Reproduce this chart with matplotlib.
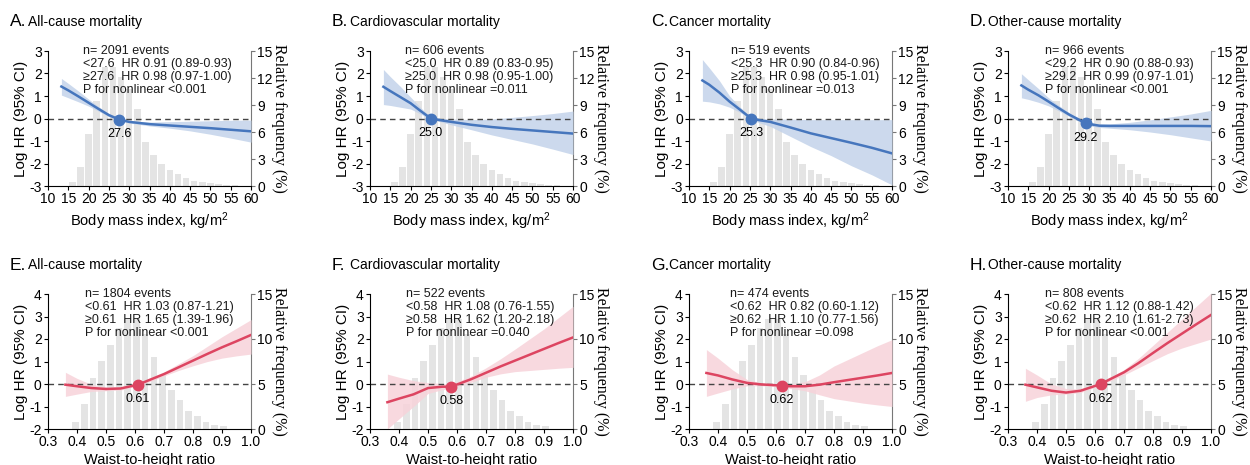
import numpy as np
import matplotlib
matplotlib.use('Agg')
import matplotlib.pyplot as plt

plt.rcParams['font.family'] = ['Liberation Sans', 'DejaVu Sans']
plt.rcParams['axes.unicode_minus'] = False
plt.rcParams['mathtext.default'] = 'regular'

BLUE, BLUE_BAND = '#4676bd', '#c3d3ea'
RED, RED_BAND = '#dd4561', '#f7d3da'
BAR = '#e4e4e4'

# histogram of exposure (relative frequency, %)
bmi_bins = [16, 18, 20, 22, 24, 26, 28, 30, 32, 34, 36, 38, 40, 42, 44, 46, 48, 50, 52, 54, 56]
bmi_freq = [0.45, 2.1, 5.8, 9.5, 13.2, 13.2, 12.1, 10.8, 8.6, 4.9, 3.4, 2.5, 1.75, 1.3, 0.85, 0.6, 0.45, 0.33, 0.25, 0.12, 0.06]
whtr_bins = [0.395, 0.425, 0.455, 0.485, 0.515, 0.545, 0.575, 0.605, 0.635, 0.665, 0.695, 0.725, 0.755, 0.785, 0.815, 0.845, 0.875, 0.905]
whtr_freq = [0.8, 2.8, 5.7, 7.6, 9.3, 11.2, 12.2, 12.2, 10.6, 8.0, 6.0, 4.3, 3.2, 2.0, 1.4, 0.8, 0.5, 0.3]

# spline curves: x, log HR, lower CI, upper CI
a_x = [13.3, 15, 17.5, 20, 22.5, 25, 27.6, 30, 35, 40, 45, 50, 55, 60]
a_y = [1.42, 1.25, 0.98, 0.70, 0.42, 0.15, -0.05, -0.15, -0.25, -0.31, -0.37, -0.43, -0.50, -0.57]
a_lo = [1.04, 0.92, 0.74, 0.55, 0.32, 0.08, -0.10, -0.20, -0.33, -0.43, -0.55, -0.70, -0.87, -1.05]
a_hi = [1.78, 1.56, 1.22, 0.86, 0.52, 0.22, 0.00, -0.10, -0.16, -0.14, -0.12, -0.10, -0.08, -0.07]

b_x = [13.3, 15, 17.5, 20, 22.5, 25, 27.5, 30, 35, 40, 45, 50, 55, 60]
b_y = [1.41, 1.22, 0.95, 0.68, 0.33, 0.0, -0.08, -0.15, -0.28, -0.38, -0.46, -0.53, -0.60, -0.67]
b_lo = [0.62, 0.58, 0.50, 0.42, 0.20, -0.05, -0.15, -0.28, -0.50, -0.73, -0.93, -1.13, -1.36, -1.60]
b_hi = [2.18, 1.86, 1.42, 0.95, 0.48, 0.05, 0.0, -0.02, -0.05, -0.02, 0.05, 0.13, 0.22, 0.33]

c_x = [13.3, 15, 17.5, 20, 22.5, 25.3, 27.5, 30, 35, 40, 45, 50, 55, 60]
c_y = [1.69, 1.50, 1.15, 0.75, 0.40, 0.0, -0.08, -0.15, -0.40, -0.66, -0.87, -1.08, -1.30, -1.55]
c_lo = [0.77, 0.74, 0.65, 0.50, 0.28, -0.05, -0.20, -0.35, -0.80, -1.25, -1.65, -2.10, -2.50, -2.95]
c_hi = [2.62, 2.25, 1.68, 1.00, 0.52, 0.05, 0.0, -0.02, -0.03, -0.05, -0.05, -0.05, -0.05, -0.05]

d_x = [13.3, 15, 17.5, 20, 22.5, 25, 29.2, 32.5, 35, 40, 45, 50, 55, 60]
d_y = [1.47, 1.28, 1.03, 0.75, 0.46, 0.18, -0.22, -0.32, -0.33, -0.33, -0.33, -0.33, -0.33, -0.34]
d_lo = [0.92, 0.85, 0.72, 0.56, 0.34, 0.10, -0.30, -0.40, -0.43, -0.50, -0.60, -0.72, -0.86, -1.00]
d_hi = [1.99, 1.72, 1.33, 0.92, 0.58, 0.27, -0.15, -0.25, -0.24, -0.17, -0.06, 0.07, 0.20, 0.36]

e_x = [0.36, 0.40, 0.45, 0.50, 0.55, 0.61, 0.65, 0.70, 0.75, 0.80, 0.85, 0.90, 0.95, 1.0]
e_y = [-0.03, -0.10, -0.18, -0.22, -0.20, -0.03, 0.18, 0.44, 0.74, 1.04, 1.34, 1.63, 1.90, 2.18]
e_lo = [-0.55, -0.45, -0.33, -0.30, -0.27, -0.08, 0.10, 0.36, 0.60, 0.81, 1.00, 1.15, 1.25, 1.33]
e_hi = [0.52, 0.25, -0.02, -0.14, -0.12, 0.02, 0.26, 0.54, 0.90, 1.26, 1.68, 2.10, 2.48, 2.86]

f_x = [0.36, 0.40, 0.45, 0.50, 0.55, 0.58, 0.65, 0.70, 0.75, 0.80, 0.85, 0.90, 0.95, 1.0]
f_y = [-0.81, -0.65, -0.46, -0.18, -0.12, -0.12, 0.22, 0.50, 0.78, 1.04, 1.30, 1.56, 1.82, 2.07]
f_lo = [-2.0, -1.55, -1.0, -0.42, -0.25, -0.22, 0.08, 0.30, 0.45, 0.55, 0.60, 0.65, 0.70, 0.74]
f_hi = [0.44, 0.30, 0.15, 0.06, 0.02, 0.0, 0.36, 0.72, 1.12, 1.55, 2.00, 2.45, 2.95, 3.45]

g_x = [0.36, 0.40, 0.45, 0.50, 0.55, 0.62, 0.65, 0.70, 0.75, 0.80, 0.85, 0.90, 0.95, 1.0]
g_y = [0.49, 0.38, 0.20, 0.05, -0.02, -0.07, -0.10, -0.10, -0.03, 0.08, 0.18, 0.28, 0.38, 0.49]
g_lo = [-0.55, -0.40, -0.22, -0.08, -0.08, -0.12, -0.20, -0.30, -0.48, -0.65, -0.75, -0.85, -0.93, -1.00]
g_hi = [1.53, 1.15, 0.63, 0.20, 0.05, -0.02, 0.0, 0.10, 0.40, 0.80, 1.10, 1.40, 1.70, 1.97]

h_x = [0.36, 0.40, 0.45, 0.50, 0.55, 0.62, 0.65, 0.70, 0.75, 0.80, 0.85, 0.90, 0.95, 1.0]
h_y = [-0.03, -0.15, -0.30, -0.38, -0.30, 0.0, 0.20, 0.52, 0.93, 1.38, 1.82, 2.24, 2.66, 3.07]
h_lo = [-0.77, -0.60, -0.48, -0.45, -0.38, -0.06, 0.12, 0.40, 0.72, 1.04, 1.35, 1.60, 1.80, 2.00]
h_hi = [0.70, 0.40, 0.00, -0.20, -0.22, 0.06, 0.28, 0.64, 1.14, 1.72, 2.30, 2.88, 3.46, 4.04]

# knots (x, log HR)
knots = [(27.6, -0.05), (25.0, 0.0), (25.3, 0.0), (29.2, -0.22),
         (0.61, -0.03), (0.58, -0.12), (0.62, -0.07), (0.62, 0.0)]
knot_labels = ['27.6', '25.0', '25.3', '29.2', '0.61', '0.58', '0.62', '0.62']

letters = ['A.', 'B.', 'C.', 'D.', 'E.', 'F.', 'G.', 'H.']
titles = ['All-cause mortality', 'Cardiovascular mortality', 'Cancer mortality', 'Other-cause mortality'] * 2

notes = [
    'n= 2091 events\n<27.6  HR 0.91 (0.89-0.93)\n\u226527.6  HR 0.98 (0.97-1.00)\nP for nonlinear <0.001',
    'n= 606 events\n<25.0  HR 0.89 (0.83-0.95)\n\u226525.0  HR 0.98 (0.95-1.00)\nP for nonlinear =0.011',
    'n= 519 events\n<25.3  HR 0.90 (0.84-0.96)\n\u226525.3  HR 0.98 (0.95-1.01)\nP for nonlinear =0.013',
    'n= 966 events\n<29.2  HR 0.90 (0.88-0.93)\n\u226529.2  HR 0.99 (0.97-1.01)\nP for nonlinear <0.001',
    'n= 1804 events\n<0.61  HR 1.03 (0.87-1.21)\n\u22650.61  HR 1.65 (1.39-1.96)\nP for nonlinear <0.001',
    'n= 522 events\n<0.58  HR 1.08 (0.76-1.55)\n\u22650.58  HR 1.62 (1.20-2.18)\nP for nonlinear =0.040',
    'n= 474 events\n<0.62  HR 0.82 (0.60-1.12)\n\u22650.62  HR 1.10 (0.77-1.56)\nP for nonlinear =0.098',
    'n= 808 events\n<0.62  HR 1.12 (0.88-1.42)\n\u22650.62  HR 2.10 (1.61-2.73)\nP for nonlinear <0.001',
]
note_x = [35, 35, 42, 37, 37, 36, 41, 37]

curves = [(a_x, a_y, a_lo, a_hi), (b_x, b_y, b_lo, b_hi), (c_x, c_y, c_lo, c_hi), (d_x, d_y, d_lo, d_hi),
          (e_x, e_y, e_lo, e_hi), (f_x, f_y, f_lo, f_hi), (g_x, g_y, g_lo, g_hi), (h_x, h_y, h_lo, h_hi)]

W, H = 1250, 465
fig = plt.figure(figsize=(12.5, 4.65), dpi=100)

lefts = [48, 370, 689, 1008]
tops = [51, 294]
title_y = [22, 265]
aw, ah = 203, 135

for i in range(8):
    row, col = divmod(i, 4)
    l, t = lefts[col], tops[row]
    ax = fig.add_axes([l / W, (H - t - ah) / H, aw / W, ah / H])
    ax2 = ax.twinx()
    ax.set_zorder(ax2.get_zorder() + 1)
    ax.patch.set_visible(False)

    bmi = row == 0
    col_line, col_band = (BLUE, BLUE_BAND) if bmi else (RED, RED_BAND)
    if bmi:
        ax2.bar(bmi_bins, bmi_freq, width=1.6, color=BAR, linewidth=0)
        ax.set_xlim(10, 60)
        ax.set_xticks(np.arange(10, 61, 5))
        ax.set_ylim(-3, 3)
        ax.set_yticks(range(-3, 4))
        ax2.set_yticks(range(0, 16, 3))
        ax.set_xlabel('Body mass index, kg/m$^2$', fontsize=10.5, labelpad=3)
    else:
        ax2.bar(whtr_bins, whtr_freq, width=0.023, color=BAR, linewidth=0)
        ax.set_xlim(0.3, 1.0)
        ax.set_xticks(np.arange(0.3, 1.01, 0.1))
        ax.set_xticklabels(['0.3', '0.4', '0.5', '0.6', '0.7', '0.8', '0.9', '1.0'])
        ax.set_ylim(-2, 4)
        ax.set_yticks(range(-2, 5))
        ax2.set_yticks([0, 5, 10, 15])
        ax.set_xlabel('Waist-to-height ratio', fontsize=10.5, labelpad=3)
    ax2.set_ylim(0, 15)

    x, y, lo, hi = curves[i]
    ax.fill_between(x, lo, hi, color=col_band, linewidth=0, alpha=0.85)
    ax.axhline(0, color='#444444', lw=1, ls=(0, (4, 3)))
    ax.plot(x, y, color=col_line, lw=1.8)
    kx, ky = knots[i]
    ax.plot([kx], [ky], 'o', color=col_line, ms=7.5, zorder=5)
    ax.annotate(knot_labels[i], (kx, ky), xytext=(0, -10.5), textcoords='offset points',
                ha='center', va='center', fontsize=9)

    ax.text(note_x[i] / aw, 1.045, notes[i], transform=ax.transAxes, fontsize=9, va='top', ha='left',
            linespacing=1.1, color='#1a1a1a')

    ax.set_ylabel('Log HR (95% CI)', fontsize=11, labelpad=1)
    ax2.set_ylabel('Relative frequency (%)', fontsize=11.5, rotation=270, labelpad=10,
                   family=['Liberation Serif', 'DejaVu Serif'])

    for a in (ax, ax2):
        a.spines['top'].set_visible(False)
    ax.spines['right'].set_visible(False)
    ax2.spines['left'].set_visible(False)
    ax2.spines['bottom'].set_visible(False)
    ax2.spines['right'].set_color('#777777')
    ax.tick_params(labelsize=10, length=3, pad=1.5)
    ax2.tick_params(labelsize=10, length=3, pad=1.5, color='#777777')

    fig.text((l - 38) / W, 1 - title_y[row] / H, letters[i], fontsize=12.5,
             ha='left', va='center')
    fig.text((l - 20) / W, 1 - title_y[row] / H, titles[i], fontsize=10,
             ha='left', va='center')

fig.savefig('out.png', dpi=100)
